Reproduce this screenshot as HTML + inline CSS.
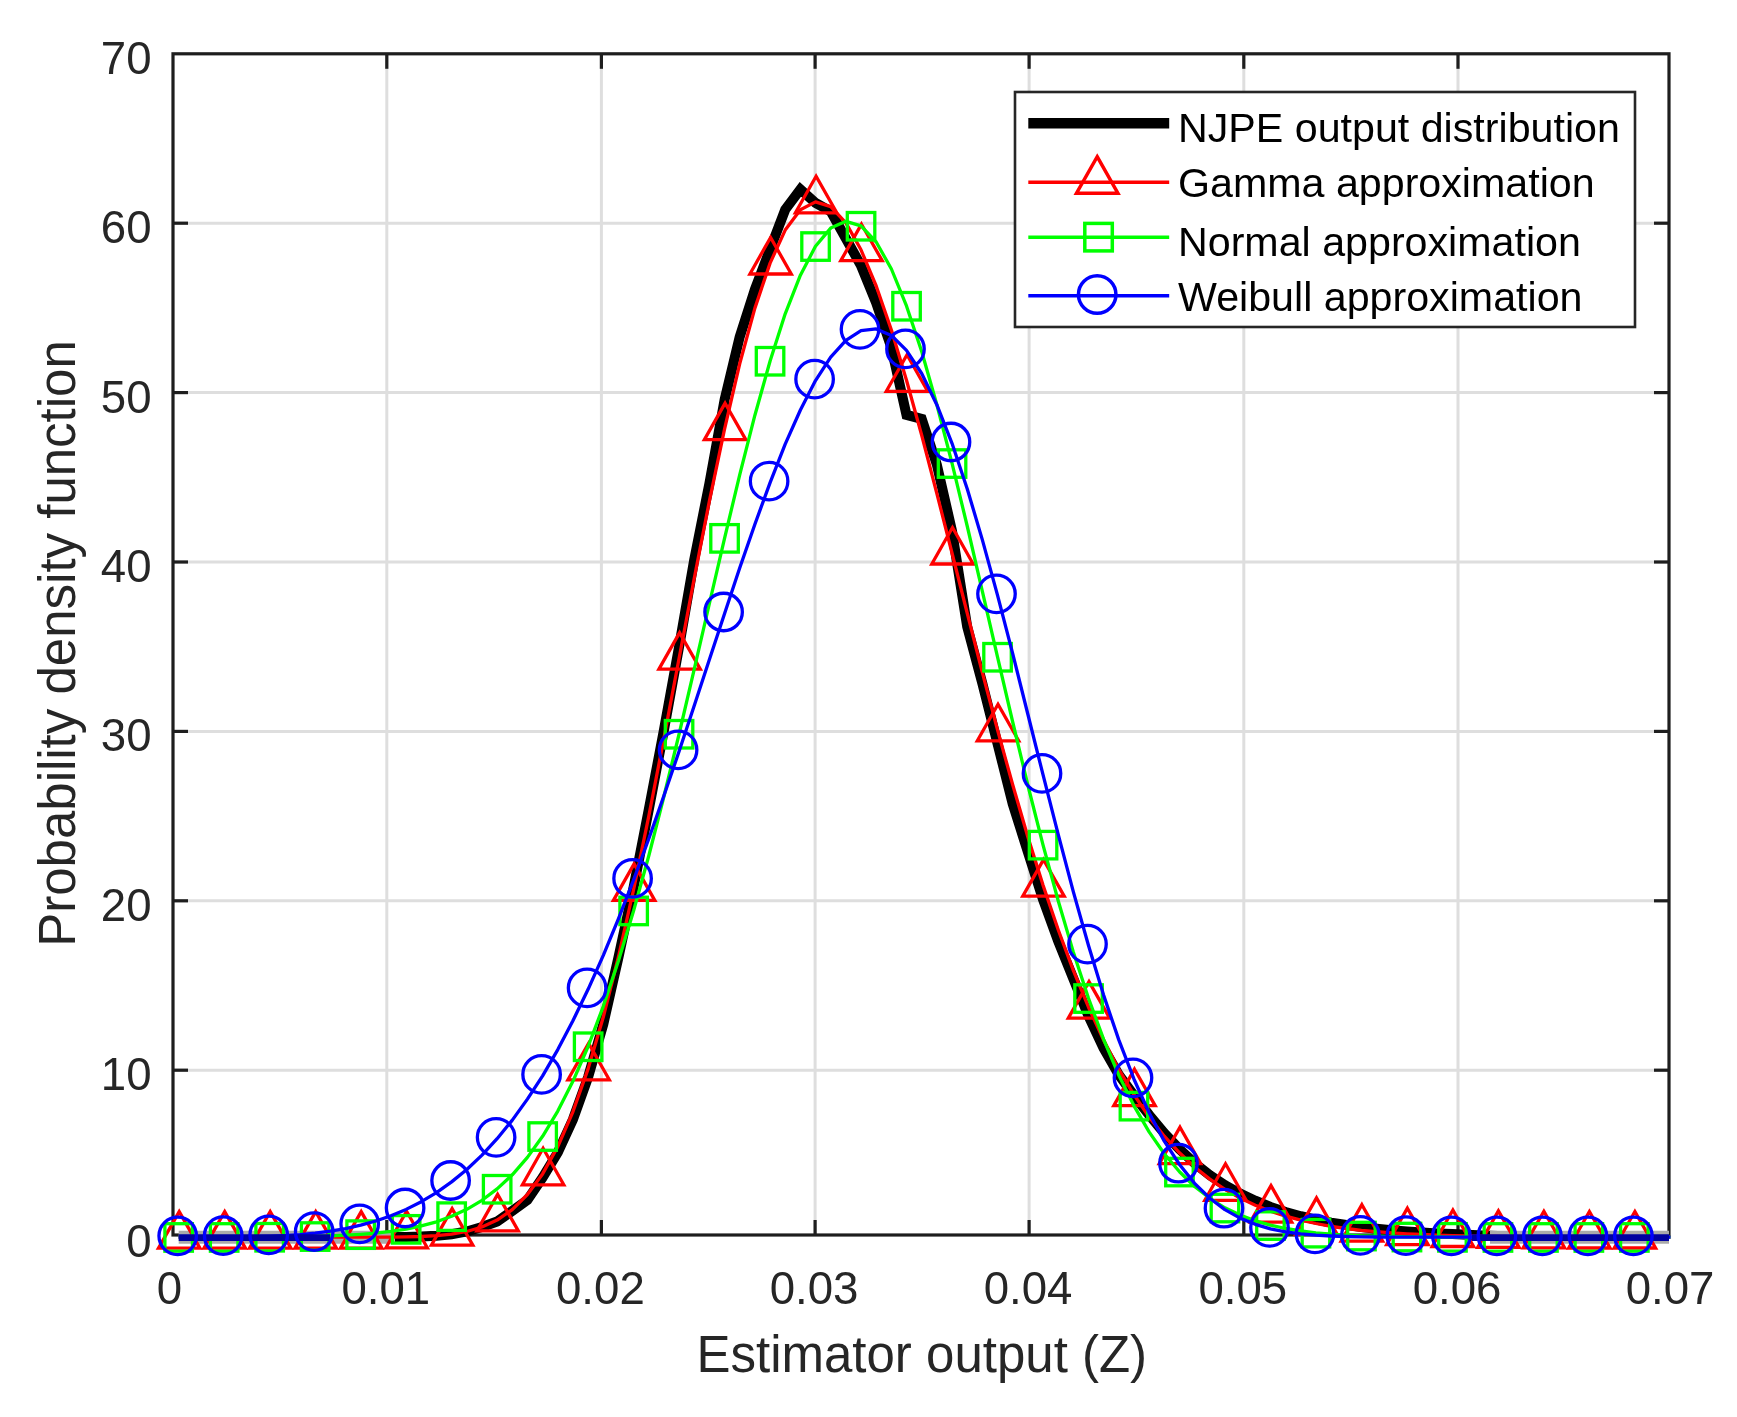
<!DOCTYPE html>
<html><head><meta charset="utf-8"><title>PDF plot</title>
<style>html,body{margin:0;padding:0;background:#fff}body{width:1737px;height:1417px;overflow:hidden}svg{display:block;filter:blur(0.7px)}</style>
</head><body>
<svg width="1737" height="1417" viewBox="0 0 1737 1417">
<rect width="1737" height="1417" fill="#fff"/>
<g stroke="#dedede" stroke-width="3" fill="none">
<line x1="386.8" y1="53.8" x2="386.8" y2="1235.0"/>
<line x1="601.4" y1="53.8" x2="601.4" y2="1235.0"/>
<line x1="815.1" y1="53.8" x2="815.1" y2="1235.0"/>
<line x1="1029.1" y1="53.8" x2="1029.1" y2="1235.0"/>
<line x1="1243.8" y1="53.8" x2="1243.8" y2="1235.0"/>
<line x1="1458.0" y1="53.8" x2="1458.0" y2="1235.0"/>
<line x1="173.0" y1="1070.2" x2="1669.0" y2="1070.2"/>
<line x1="173.0" y1="900.8" x2="1669.0" y2="900.8"/>
<line x1="173.0" y1="731.4" x2="1669.0" y2="731.4"/>
<line x1="173.0" y1="562.0" x2="1669.0" y2="562.0"/>
<line x1="173.0" y1="392.6" x2="1669.0" y2="392.6"/>
<line x1="173.0" y1="223.2" x2="1669.0" y2="223.2"/>
</g>
<g stroke="#1e1e1e" stroke-width="3.2" fill="none">
<rect x="173.0" y="53.8" width="1496.0" height="1181.2"/>
<line x1="386.8" y1="53.8" x2="386.8" y2="68.8"/><line x1="386.8" y1="1235.0" x2="386.8" y2="1220.0"/>
<line x1="601.4" y1="53.8" x2="601.4" y2="68.8"/><line x1="601.4" y1="1235.0" x2="601.4" y2="1220.0"/>
<line x1="815.1" y1="53.8" x2="815.1" y2="68.8"/><line x1="815.1" y1="1235.0" x2="815.1" y2="1220.0"/>
<line x1="1029.1" y1="53.8" x2="1029.1" y2="68.8"/><line x1="1029.1" y1="1235.0" x2="1029.1" y2="1220.0"/>
<line x1="1243.8" y1="53.8" x2="1243.8" y2="68.8"/><line x1="1243.8" y1="1235.0" x2="1243.8" y2="1220.0"/>
<line x1="1458.0" y1="53.8" x2="1458.0" y2="68.8"/><line x1="1458.0" y1="1235.0" x2="1458.0" y2="1220.0"/>
<line x1="173.0" y1="1070.2" x2="188.0" y2="1070.2"/><line x1="1669.0" y1="1070.2" x2="1654.0" y2="1070.2"/>
<line x1="173.0" y1="900.8" x2="188.0" y2="900.8"/><line x1="1669.0" y1="900.8" x2="1654.0" y2="900.8"/>
<line x1="173.0" y1="731.4" x2="188.0" y2="731.4"/><line x1="1669.0" y1="731.4" x2="1654.0" y2="731.4"/>
<line x1="173.0" y1="562.0" x2="188.0" y2="562.0"/><line x1="1669.0" y1="562.0" x2="1654.0" y2="562.0"/>
<line x1="173.0" y1="392.6" x2="188.0" y2="392.6"/><line x1="1669.0" y1="392.6" x2="1654.0" y2="392.6"/>
<line x1="173.0" y1="223.2" x2="188.0" y2="223.2"/><line x1="1669.0" y1="223.2" x2="1654.0" y2="223.2"/>
</g>
<clipPath id="cp"><rect x="173.0" y="0" width="1497.5" height="1417"/></clipPath>
<g fill="none" stroke-linejoin="round">
<polyline clip-path="url(#cp)" stroke-linejoin="miter" stroke="#000" stroke-width="10" points="391.0,1237.1 406.1,1236.9 421.3,1236.5 436.5,1235.7 451.6,1234.2 466.8,1231.5 482.0,1227.0 497.1,1221.5 512.3,1210.8 527.4,1200.0 542.6,1177.5 557.8,1152.5 572.9,1119.5 588.1,1077.1 603.3,1024.2 618.4,957.6 633.6,887.3 648.8,809.5 663.9,730.3 679.1,646.6 694.2,559.8 709.4,483.4 724.6,399.9 739.7,336.9 754.9,289.4 770.1,249.3 785.2,209.6 800.4,189.3 815.5,202.9 830.7,211.4 845.9,238.5 861.0,265.6 876.2,302.9 891.4,347.6 906.5,414.9 921.7,419.0 936.8,464.5 952.0,531.0 967.2,626.8 982.3,683.2 997.5,743.5 1012.7,803.9 1027.8,851.7 1043.0,899.4 1058.2,941.2 1073.3,978.5 1088.5,1015.9 1103.6,1048.2 1118.8,1074.7 1134.0,1095.4 1149.1,1114.9 1164.3,1133.1 1179.5,1149.2 1194.6,1163.2 1209.8,1175.1 1224.9,1185.2 1240.1,1193.6 1255.3,1200.7 1270.4,1206.9 1285.6,1212.0 1300.8,1216.2 1315.9,1219.7 1331.1,1222.6 1346.3,1224.9 1361.4,1227.0 1376.6,1228.7 1391.7,1230.2 1406.9,1231.4 1422.1,1232.5 1437.2,1233.4 1452.4,1234.1 1467.6,1234.8 1482.7,1235.4 1497.9,1236.0"/>
<path clip-path="url(#cp)" stroke="#aaa" stroke-width="13" d="M178.7 1237.2H395M1490 1237.2H1669"/>
<g stroke="#f00" stroke-width="3.3">
<polyline clip-path="url(#cp)" points="178.7,1237.2 193.9,1237.2 209.0,1237.2 224.2,1237.2 239.4,1237.2 254.5,1237.2 269.7,1237.2 284.8,1237.2 300.0,1237.2 315.2,1237.2 330.3,1237.2 345.5,1237.2 360.7,1237.2 375.8,1237.2 391.0,1237.1 406.1,1236.9 421.3,1236.5 436.5,1235.7 451.6,1234.2 466.8,1231.5 482.0,1227.0 497.1,1220.1 512.3,1209.6 527.4,1194.5 542.6,1173.9 557.8,1146.6 572.9,1111.8 588.1,1068.9 603.3,1017.0 618.4,957.0 633.6,889.6 648.8,816.1 663.9,738.4 679.1,658.3 694.2,578.5 709.4,501.1 724.6,428.9 739.7,363.8 754.9,308.1 770.1,263.1 785.2,230.1 800.4,209.7 815.5,201.9 830.7,206.6 845.9,222.9 861.0,249.8 876.2,286.0 891.4,330.1 906.5,380.3 921.7,435.3 936.8,493.3 952.0,553.0 967.2,613.0 982.3,672.3 997.5,729.8 1012.7,784.8 1027.8,836.7 1043.0,885.1 1058.2,929.7 1073.3,970.4 1088.5,1007.2 1103.6,1040.1 1118.8,1069.4 1134.0,1094.8 1149.1,1117.0 1164.3,1136.2 1179.5,1152.8 1194.6,1167.0 1209.8,1179.1 1224.9,1189.4 1240.1,1198.0 1255.3,1205.2 1270.4,1211.1 1285.6,1216.1 1300.8,1220.2 1315.9,1223.5 1331.1,1226.3 1346.3,1228.5 1361.4,1230.3 1376.6,1231.7 1391.7,1232.9 1406.9,1233.8 1422.1,1234.5 1437.2,1235.1 1452.4,1235.6 1467.6,1235.9 1482.7,1236.2 1497.9,1236.5 1513.0,1236.6 1528.2,1236.8 1543.4,1236.9 1558.5,1236.9 1573.7,1237.0 1588.9,1237.1 1604.0,1237.1 1619.2,1237.1 1634.3,1237.1 1649.5,1237.2 1664.7,1237.2 1679.8,1237.2"/>
<path d="M179.2 1211.6L199.9 1248.1H158.5Z" stroke-linejoin="miter"/>
<path d="M224.7 1211.6L245.4 1248.1H204.0Z" stroke-linejoin="miter"/>
<path d="M270.2 1211.6L290.9 1248.1H249.5Z" stroke-linejoin="miter"/>
<path d="M315.7 1211.6L336.4 1248.1H295.0Z" stroke-linejoin="miter"/>
<path d="M361.2 1211.6L381.9 1248.1H340.5Z" stroke-linejoin="miter"/>
<path d="M406.6 1211.3L427.3 1247.8H385.9Z" stroke-linejoin="miter"/>
<path d="M452.1 1208.6L472.8 1245.1H431.4Z" stroke-linejoin="miter"/>
<path d="M497.6 1194.4L518.3 1230.9H476.9Z" stroke-linejoin="miter"/>
<path d="M543.1 1148.3L563.8 1184.8H522.4Z" stroke-linejoin="miter"/>
<path d="M588.6 1043.3L609.3 1079.8H567.9Z" stroke-linejoin="miter"/>
<path d="M634.1 863.9L654.8 900.4H613.4Z" stroke-linejoin="miter"/>
<path d="M679.6 632.7L700.3 669.2H658.9Z" stroke-linejoin="miter"/>
<path d="M725.1 403.2L745.8 439.7H704.4Z" stroke-linejoin="miter"/>
<path d="M770.6 237.5L791.3 274.0H749.9Z" stroke-linejoin="miter"/>
<path d="M816.1 176.3L836.8 212.8H795.4Z" stroke-linejoin="miter"/>
<path d="M861.5 224.2L882.2 260.7H840.8Z" stroke-linejoin="miter"/>
<path d="M907.0 354.8L927.7 391.3H886.3Z" stroke-linejoin="miter"/>
<path d="M952.5 527.5L973.2 564.0H931.8Z" stroke-linejoin="miter"/>
<path d="M998.0 704.3L1018.7 740.8H977.3Z" stroke-linejoin="miter"/>
<path d="M1043.5 859.6L1064.2 896.1H1022.8Z" stroke-linejoin="miter"/>
<path d="M1089.0 981.6L1109.7 1018.1H1068.3Z" stroke-linejoin="miter"/>
<path d="M1134.5 1069.2L1155.2 1105.7H1113.8Z" stroke-linejoin="miter"/>
<path d="M1180.0 1127.2L1200.7 1163.7H1159.3Z" stroke-linejoin="miter"/>
<path d="M1225.5 1163.8L1246.2 1200.3H1204.8Z" stroke-linejoin="miter"/>
<path d="M1271.0 1185.6L1291.7 1222.1H1250.3Z" stroke-linejoin="miter"/>
<path d="M1316.5 1197.9L1337.2 1234.4H1295.8Z" stroke-linejoin="miter"/>
<path d="M1361.9 1204.7L1382.6 1241.2H1341.2Z" stroke-linejoin="miter"/>
<path d="M1407.4 1208.2L1428.1 1244.7H1386.7Z" stroke-linejoin="miter"/>
<path d="M1452.9 1210.0L1473.6 1246.5H1432.2Z" stroke-linejoin="miter"/>
<path d="M1498.4 1210.9L1519.1 1247.4H1477.7Z" stroke-linejoin="miter"/>
<path d="M1543.9 1211.3L1564.6 1247.8H1523.2Z" stroke-linejoin="miter"/>
<path d="M1589.4 1211.5L1610.1 1248.0H1568.7Z" stroke-linejoin="miter"/>
<path d="M1634.9 1211.5L1655.6 1248.0H1614.2Z" stroke-linejoin="miter"/>
</g>
<g stroke="#0f0" stroke-width="3.3">
<polyline clip-path="url(#cp)" points="178.7,1237.2 193.9,1237.2 209.0,1237.2 224.2,1237.1 239.4,1237.1 254.5,1237.0 269.7,1236.9 284.8,1236.8 300.0,1236.6 315.2,1236.3 330.3,1235.9 345.5,1235.2 360.7,1234.3 375.8,1233.1 391.0,1231.4 406.1,1229.1 421.3,1225.9 436.5,1221.8 451.6,1216.3 466.8,1209.3 482.0,1200.3 497.1,1188.9 512.3,1174.8 527.4,1157.4 542.6,1136.3 557.8,1111.1 572.9,1081.3 588.1,1046.5 603.3,1006.3 618.4,961.0 633.6,910.7 648.8,855.7 663.9,796.5 679.1,734.0 694.2,669.3 709.4,603.5 724.6,538.1 739.7,474.8 754.9,415.2 770.1,361.0 785.2,313.8 800.4,275.2 815.5,246.3 830.7,228.1 845.9,221.3 861.0,225.9 876.2,242.0 891.4,269.0 906.5,305.9 921.7,351.5 936.8,404.5 952.0,463.2 967.2,526.0 982.3,591.1 997.5,656.9 1012.7,722.0 1027.8,785.0 1043.0,844.8 1058.2,900.7 1073.3,951.9 1088.5,998.2 1103.6,1039.3 1118.8,1075.2 1134.0,1105.8 1149.1,1131.9 1164.3,1153.7 1179.5,1171.7 1194.6,1186.5 1209.8,1198.3 1224.9,1207.8 1240.1,1215.1 1255.3,1220.9 1270.4,1225.2 1285.6,1228.5 1300.8,1231.0 1315.9,1232.8 1331.1,1234.1 1346.3,1235.1 1361.4,1235.8 1376.6,1236.2 1391.7,1236.5 1406.9,1236.8 1422.1,1236.9 1437.2,1237.0 1452.4,1237.1 1467.6,1237.1 1482.7,1237.2 1497.9,1237.2 1513.0,1237.2 1528.2,1237.2 1543.4,1237.2 1558.5,1237.2 1573.7,1237.2 1588.9,1237.2 1604.0,1237.2 1619.2,1237.2 1634.3,1237.2 1649.5,1237.2 1664.7,1237.2 1679.8,1237.2"/>
<rect x="164.9" y="1223.7" width="27.5" height="27.5" stroke-linejoin="miter"/>
<rect x="210.4" y="1223.7" width="27.5" height="27.5" stroke-linejoin="miter"/>
<rect x="255.9" y="1223.5" width="27.5" height="27.5" stroke-linejoin="miter"/>
<rect x="301.4" y="1222.8" width="27.5" height="27.5" stroke-linejoin="miter"/>
<rect x="346.9" y="1220.9" width="27.5" height="27.5" stroke-linejoin="miter"/>
<rect x="392.4" y="1215.6" width="27.5" height="27.5" stroke-linejoin="miter"/>
<rect x="437.9" y="1202.9" width="27.5" height="27.5" stroke-linejoin="miter"/>
<rect x="483.4" y="1175.5" width="27.5" height="27.5" stroke-linejoin="miter"/>
<rect x="528.9" y="1122.8" width="27.5" height="27.5" stroke-linejoin="miter"/>
<rect x="574.4" y="1033.0" width="27.5" height="27.5" stroke-linejoin="miter"/>
<rect x="619.9" y="897.2" width="27.5" height="27.5" stroke-linejoin="miter"/>
<rect x="665.3" y="720.5" width="27.5" height="27.5" stroke-linejoin="miter"/>
<rect x="710.8" y="524.6" width="27.5" height="27.5" stroke-linejoin="miter"/>
<rect x="756.3" y="347.5" width="27.5" height="27.5" stroke-linejoin="miter"/>
<rect x="801.8" y="232.8" width="27.5" height="27.5" stroke-linejoin="miter"/>
<rect x="847.3" y="212.5" width="27.5" height="27.5" stroke-linejoin="miter"/>
<rect x="892.8" y="292.5" width="27.5" height="27.5" stroke-linejoin="miter"/>
<rect x="938.3" y="449.8" width="27.5" height="27.5" stroke-linejoin="miter"/>
<rect x="983.8" y="643.5" width="27.5" height="27.5" stroke-linejoin="miter"/>
<rect x="1029.3" y="831.4" width="27.5" height="27.5" stroke-linejoin="miter"/>
<rect x="1074.8" y="984.8" width="27.5" height="27.5" stroke-linejoin="miter"/>
<rect x="1120.2" y="1092.4" width="27.5" height="27.5" stroke-linejoin="miter"/>
<rect x="1165.7" y="1158.3" width="27.5" height="27.5" stroke-linejoin="miter"/>
<rect x="1211.2" y="1194.3" width="27.5" height="27.5" stroke-linejoin="miter"/>
<rect x="1256.7" y="1211.8" width="27.5" height="27.5" stroke-linejoin="miter"/>
<rect x="1302.2" y="1219.4" width="27.5" height="27.5" stroke-linejoin="miter"/>
<rect x="1347.7" y="1222.3" width="27.5" height="27.5" stroke-linejoin="miter"/>
<rect x="1393.2" y="1223.3" width="27.5" height="27.5" stroke-linejoin="miter"/>
<rect x="1438.7" y="1223.6" width="27.5" height="27.5" stroke-linejoin="miter"/>
<rect x="1484.2" y="1223.7" width="27.5" height="27.5" stroke-linejoin="miter"/>
<rect x="1529.7" y="1223.7" width="27.5" height="27.5" stroke-linejoin="miter"/>
<rect x="1575.1" y="1223.7" width="27.5" height="27.5" stroke-linejoin="miter"/>
<rect x="1620.6" y="1223.7" width="27.5" height="27.5" stroke-linejoin="miter"/>
</g>
<g stroke="#00f" stroke-width="3.3">
<polyline clip-path="url(#cp)" points="178.7,1237.2 193.9,1237.2 209.0,1237.2 224.2,1237.1 239.4,1237.0 254.5,1236.7 269.7,1236.3 284.8,1235.6 300.0,1234.6 315.2,1233.1 330.3,1231.2 345.5,1228.6 360.7,1225.2 375.8,1221.0 391.0,1215.8 406.1,1209.4 421.3,1201.7 436.5,1192.6 451.6,1181.9 466.8,1169.5 482.0,1155.1 497.1,1138.7 512.3,1120.1 527.4,1099.1 542.6,1075.8 557.8,1049.6 572.9,1020.8 588.1,989.3 603.3,955.3 618.4,918.8 633.6,879.9 648.8,838.8 663.9,795.8 679.1,751.3 694.2,705.7 709.4,659.6 724.6,613.4 739.7,568.1 754.9,524.2 770.1,482.6 785.2,444.2 800.4,410.0 815.5,380.6 830.7,357.1 845.9,340.3 861.0,330.7 876.2,328.9 891.4,335.4 906.5,350.3 921.7,373.5 936.8,404.7 952.0,443.3 967.2,488.7 982.3,539.6 997.5,595.1 1012.7,653.7 1027.8,714.0 1043.0,774.7 1058.2,834.3 1073.3,891.6 1088.5,945.5 1103.6,995.1 1118.8,1039.9 1134.0,1079.2 1149.1,1112.8 1164.3,1141.1 1179.5,1164.5 1194.6,1183.4 1209.8,1198.2 1224.9,1209.6 1240.1,1218.1 1255.3,1224.3 1270.4,1228.8 1285.6,1231.8 1300.8,1233.8 1315.9,1235.2 1331.1,1236.0 1346.3,1236.5 1361.4,1236.8 1376.6,1237.0 1391.7,1237.1 1406.9,1237.1 1422.1,1237.2 1437.2,1237.2 1452.4,1237.2 1467.6,1237.2 1482.7,1237.2 1497.9,1237.2 1513.0,1237.2 1528.2,1237.2 1543.4,1237.2 1558.5,1237.2 1573.7,1237.2 1588.9,1237.2 1604.0,1237.2 1619.2,1237.2 1634.3,1237.2 1649.5,1237.2 1664.7,1237.2 1679.8,1237.2"/>
<path clip-path="url(#cp)" stroke="#0000a0" stroke-width="6.7" d="M178.7 1237.6000000000001H330M1472 1237.6000000000001H1669"/>
<circle cx="177.7" cy="1235.8" r="18.75"/>
<circle cx="223.2" cy="1235.7" r="18.75"/>
<circle cx="268.7" cy="1234.9" r="18.75"/>
<circle cx="314.2" cy="1231.7" r="18.75"/>
<circle cx="359.7" cy="1223.8" r="18.75"/>
<circle cx="405.1" cy="1208.0" r="18.75"/>
<circle cx="450.6" cy="1180.5" r="18.75"/>
<circle cx="496.1" cy="1137.3" r="18.75"/>
<circle cx="541.6" cy="1074.4" r="18.75"/>
<circle cx="587.1" cy="987.9" r="18.75"/>
<circle cx="632.6" cy="878.4" r="18.75"/>
<circle cx="678.1" cy="749.9" r="18.75"/>
<circle cx="723.6" cy="612.0" r="18.75"/>
<circle cx="769.1" cy="481.2" r="18.75"/>
<circle cx="814.6" cy="379.2" r="18.75"/>
<circle cx="860.0" cy="329.3" r="18.75"/>
<circle cx="905.5" cy="348.9" r="18.75"/>
<circle cx="951.0" cy="442.0" r="18.75"/>
<circle cx="996.5" cy="593.8" r="18.75"/>
<circle cx="1042.0" cy="773.4" r="18.75"/>
<circle cx="1087.5" cy="944.1" r="18.75"/>
<circle cx="1133.0" cy="1077.8" r="18.75"/>
<circle cx="1178.5" cy="1163.2" r="18.75"/>
<circle cx="1224.0" cy="1208.2" r="18.75"/>
<circle cx="1269.5" cy="1227.4" r="18.75"/>
<circle cx="1315.0" cy="1233.8" r="18.75"/>
<circle cx="1360.4" cy="1235.4" r="18.75"/>
<circle cx="1405.9" cy="1235.7" r="18.75"/>
<circle cx="1451.4" cy="1235.8" r="18.75"/>
<circle cx="1496.9" cy="1235.8" r="18.75"/>
<circle cx="1542.4" cy="1235.8" r="18.75"/>
<circle cx="1587.9" cy="1235.8" r="18.75"/>
<circle cx="1633.4" cy="1235.8" r="18.75"/>
</g>
</g>
<rect x="1015" y="92" width="620" height="235" fill="#fff" stroke="#262626" stroke-width="2.6"/>
<g fill="none">
<line x1="1028.3" y1="123.3" x2="1169.2" y2="123.3" stroke="#000" stroke-width="10.5"/>
<g stroke="#f00" stroke-width="3.5"><line x1="1028.3" y1="182.3" x2="1169.2" y2="182.3"/><path d="M1097.2 156.7L1117.9 193.2H1076.5Z" stroke-linejoin="miter"/></g>
<g stroke="#0f0" stroke-width="3.5"><line x1="1028.3" y1="237.2" x2="1169.2" y2="237.2"/><rect x="1084.8" y="223.4" width="27.5" height="27.5" stroke-linejoin="miter"/></g>
<g stroke="#00f" stroke-width="3.5"><line x1="1028.3" y1="295.8" x2="1169.2" y2="295.8"/><circle cx="1097.2" cy="294.4" r="18.75"/></g>
</g>
<g font-family="Liberation Sans, Arial, Helvetica, sans-serif" font-size="41.2" fill="#000">
<text x="1178" y="142">NJPE output distribution</text>
<text x="1178" y="197">Gamma approximation</text>
<text x="1178" y="256">Normal approximation</text>
<text x="1178" y="310.8">Weibull approximation</text>
</g>
<g font-family="Liberation Sans, Arial, Helvetica, sans-serif" font-size="45.6" fill="#262626">
<text x="169.5" y="1303.6" text-anchor="middle">0</text>
<text x="385.8" y="1303.6" text-anchor="middle">0.01</text>
<text x="600.4" y="1303.6" text-anchor="middle">0.02</text>
<text x="814.1" y="1303.6" text-anchor="middle">0.03</text>
<text x="1028.1" y="1303.6" text-anchor="middle">0.04</text>
<text x="1242.8" y="1303.6" text-anchor="middle">0.05</text>
<text x="1457.0" y="1303.6" text-anchor="middle">0.06</text>
<text x="1670" y="1303.6" text-anchor="middle">0.07</text>
<text x="151.5" y="1257.0" text-anchor="end">0</text>
<text x="151.5" y="1090.2" text-anchor="end">10</text>
<text x="151.5" y="920.8" text-anchor="end">20</text>
<text x="151.5" y="751.4" text-anchor="end">30</text>
<text x="151.5" y="582.0" text-anchor="end">40</text>
<text x="151.5" y="412.6" text-anchor="end">50</text>
<text x="151.5" y="243.2" text-anchor="end">60</text>
<text x="151.5" y="73.8" text-anchor="end">70</text>
</g>
<g font-family="Liberation Sans, Arial, Helvetica, sans-serif" font-size="51" fill="#262626">
<text x="921.8" y="1371.6" text-anchor="middle">Estimator output (Z)</text>
<text transform="translate(75,643.5) rotate(-90)" text-anchor="middle">Probability density function</text>
</g>
</svg>
</body></html>
